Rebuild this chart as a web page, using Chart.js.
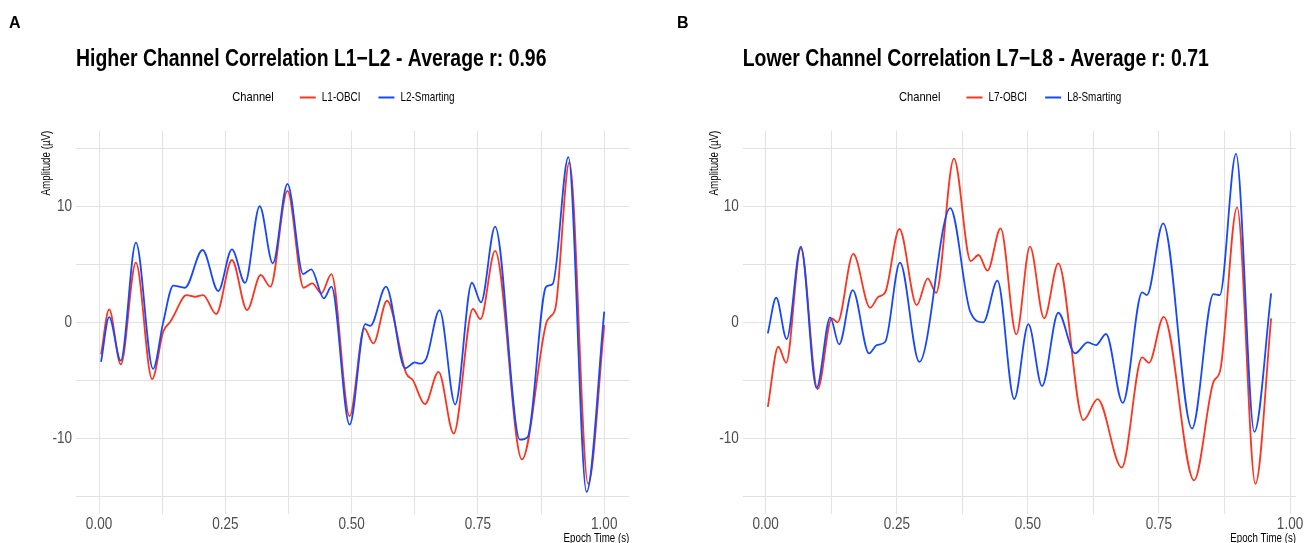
<!DOCTYPE html>
<html>
<head>
<meta charset="utf-8">
<script src="https://cdn.jsdelivr.net/npm/chart.js@4.4.1/dist/chart.umd.min.js"></script>
<style>
  html, body { margin: 0; padding: 0; background: #ffffff; }
  #figure { position: relative; width: 1312px; height: 543px; overflow: hidden; background: #ffffff; }
  #figure canvas { position: absolute; top: 0; }
  .tag { position: absolute; font: bold 16px "Liberation Sans", Arial, sans-serif; color: #000; line-height: 16px; }
</style>
</head>
<body>
<div id="figure">
  <canvas id="panelA" width="656" height="543" style="left:0px"></canvas>
  <canvas id="panelB" width="656" height="543" style="left:656px"></canvas>
  <div class="tag" style="left:9px;top:15px">A</div>
  <div class="tag" style="left:677px;top:15px">B</div>
</div>
<script>
// ---- Panel A: L1 (OpenBCI) vs L2 (Smarting) ----
const timeL1 = [0.004, 0.020, 0.043, 0.073, 0.105, 0.127, 0.141, 0.147, 0.173, 0.190, 0.206, 0.232, 0.263, 0.293, 0.320, 0.339, 0.373, 0.405, 0.422, 0.440, 0.460, 0.496, 0.525, 0.543, 0.570, 0.608, 0.621, 0.645, 0.672, 0.702, 0.740, 0.755, 0.784, 0.837, 0.885, 0.893, 0.904, 0.931, 0.968, 1.000];
const ampL1  = [-2.76, 1.12, -3.62, 5.14, -4.89, -0.8, 0.05, 0.5, 2.35, 2.2, 2.35, 0.72, 5.37, 1.06, 4.08, 3.07, 11.32, 2.98, 3.36, 2.5, 4.16, -8.08, -0.52, -1.81, 1.86, -4.4, -4.97, -7.04, -4.26, -9.57, 1.15, 0.28, 6.15, -11.8, -0.1, 0.48, 1.35, 13.8, -13.9, -0.23];

const timeL2 = [0.004, 0.020, 0.043, 0.073, 0.107, 0.127, 0.147, 0.170, 0.205, 0.236, 0.263, 0.289, 0.318, 0.344, 0.373, 0.404, 0.420, 0.445, 0.460, 0.496, 0.527, 0.537, 0.568, 0.606, 0.625, 0.636, 0.648, 0.674, 0.705, 0.738, 0.756, 0.784, 0.833, 0.848, 0.885, 0.898, 0.929, 0.965, 1.000];
const ampL2  = [-3.4, 0.45, -3.3, 6.86, -4.0, 0.0, 3.16, 2.98, 6.23, 2.7, 6.29, 3.4, 10.0, 5.08, 11.92, 4.16, 4.57, 2.07, 3.07, -8.8, -0.15, -0.3, 3.07, -3.95, -3.45, -3.55, -3.1, 1.06, -7.07, 3.41, 1.72, 8.24, -10.1, -9.9, 3.07, 3.3, 14.22, -14.6, 0.92];

// ---- Panel B: L7 (OpenBCI) vs L8 (Smarting) ----
const timeL7 = [0.004, 0.024, 0.039, 0.067, 0.099, 0.126, 0.137, 0.167, 0.199, 0.215, 0.228, 0.255, 0.288, 0.309, 0.325, 0.359, 0.391, 0.406, 0.423, 0.448, 0.478, 0.504, 0.531, 0.558, 0.606, 0.633, 0.679, 0.718, 0.731, 0.759, 0.817, 0.854, 0.867, 0.899, 0.934, 0.964];
const ampL7  = [-7.28, -2.1, -3.48, 6.38, -5.75, 0.34, 0.0, 5.89, 1.26, 2.2, 2.59, 8.04, 1.49, 3.79, 2.55, 14.1, 5.28, 5.8, 4.45, 8.1, -1.04, 6.52, 0.34, 5.08, -8.42, -6.61, -12.5, -3.02, -3.48, 0.48, -13.6, -5.12, -4.11, 9.91, -13.9, 0.34];

const timeL8 = [0.004, 0.020, 0.040, 0.067, 0.097, 0.123, 0.140, 0.166, 0.197, 0.212, 0.228, 0.256, 0.293, 0.352, 0.390, 0.415, 0.442, 0.474, 0.501, 0.527, 0.558, 0.590, 0.614, 0.630, 0.649, 0.681, 0.718, 0.727, 0.758, 0.813, 0.854, 0.866, 0.897, 0.932, 0.964];
const ampL8  = [-0.95, 2.12, -1.44, 6.52, -5.64, 0.43, -1.9, 2.78, -2.67, -1.96, -1.67, 5.14, -3.4, 9.83, 0.92, 0.0, 3.59, -6.6, -0.15, -5.49, 0.83, -2.67, -1.72, -1.96, -1.0, -6.93, 2.59, 2.35, 8.53, -9.14, 2.44, 2.35, 14.5, -9.43, 2.5];

// ---- Axis breaks ----
const xGrid     = [0, 0.125, 0.25, 0.375, 0.5, 0.625, 0.75, 0.875, 1.0];
const xLabelled = [0, 0.25, 0.5, 0.75, 1.0];
const yGrid     = [-15, -10, -5, 0, 5, 10, 15];
const yLabelled = [-10, 0, 10];

const FONT = '"Liberation Sans", Arial, sans-serif';
const NARROW_FACTOR = 0.82;   // narrow-face proportions
const RED = '#fc3520';
const BLUE = '#1848fc';
const GRID = '#e2e2e2';

Chart.defaults.font.family = FONT;

const toPoints = (t, v) => t.map((x, i) => ({ x, y: v[i] }));
const hasValue = (list, v) => list.some(b => Math.abs(b - v) < 1e-9);

// Render all canvas text with narrow proportions (horizontal squeeze about the anchor).
function narrowText(ctx, k) {
  const fill = ctx.fillText.bind(ctx);
  const measure = ctx.measureText.bind(ctx);
  ctx.fillText = (text, x, y, maxWidth) => {
    ctx.save();
    ctx.translate(x, y);
    ctx.scale(k, 1);
    if (maxWidth === undefined || maxWidth === null) fill(text, 0, 0);
    else fill(text, 0, 0, maxWidth / k);
    ctx.restore();
  };
  ctx.measureText = text => {
    const m = measure(text);
    return {
      width: m.width * k,
      actualBoundingBoxLeft: m.actualBoundingBoxLeft * k,
      actualBoundingBoxRight: m.actualBoundingBoxRight * k,
      actualBoundingBoxAscent: m.actualBoundingBoxAscent,
      actualBoundingBoxDescent: m.actualBoundingBoxDescent,
      fontBoundingBoxAscent: m.fontBoundingBoxAscent,
      fontBoundingBoxDescent: m.fontBoundingBoxDescent
    };
  };
}

// Empty layout box that sits between the legend and the plotting area.
const legendGap = {
  id: 'legendGap',
  beforeInit(chart, args, opts) {
    const size = opts.size || 0;
    Chart.layouts.addBox(chart, {
      position: 'top', weight: 0, fullSize: false, options: {},
      left: 0, top: 0, right: 0, bottom: 0, width: 0, height: 0,
      isHorizontal() { return true; },
      update(maxWidth) { this.width = maxWidth; this.height = size; },
      draw() {}
    });
  }
};

// Legend heading drawn on the same row, left of the first key;
// the legend row is also nudged horizontally.
const legendHeading = {
  id: 'legendHeading',
  afterLayout(chart, args, opts) {
    const lg = chart.legend;
    if (!lg || !opts.shift) return;
    lg.left += opts.shift;
    lg.right += opts.shift;
  },
  afterDraw(chart, args, opts) {
    const lg = chart.legend;
    if (!lg || !lg.legendHitBoxes || lg.legendHitBoxes.length < 2) return;
    const hb = lg.legendHitBoxes[1];
    const ctx = chart.ctx;
    ctx.save();
    ctx.font = opts.size + 'px ' + FONT;
    ctx.fillStyle = opts.color;
    ctx.textAlign = 'right';
    ctx.textBaseline = 'middle';
    ctx.fillText(opts.text, hb.left - opts.gap, hb.top + hb.height / 2);
    ctx.restore();
  }
};

function buildPanel(canvasId, p) {
  const canvas = document.getElementById(canvasId);
  narrowText(canvas.getContext('2d'), NARROW_FACTOR);
  return new Chart(canvas, {
    type: 'line',
    data: {
      datasets: [
        { label: p.names[0], data: toPoints(p.t1, p.v1), borderColor: RED, backgroundColor: RED, order: 1 },
        { label: p.names[1], data: toPoints(p.t2, p.v2), borderColor: BLUE, backgroundColor: BLUE, order: 0 }
      ]
    },
    options: {
      responsive: false,
      animation: false,
      events: [],
      elements: {
        line: { borderWidth: 1.8, cubicInterpolationMode: 'monotone', fill: false },
        point: { radius: 0 }
      },
      layout: { padding: { left: p.padLeft, right: p.padRight, top: 10, bottom: 0 } },
      plugins: {
        tooltip: { enabled: false },
        title: {
          display: true, text: p.title, align: 'start', fullSize: false, color: '#000',
          font: { size: 23.7, weight: 'bold', lineHeight: 1.2 },
          padding: { top: 35, bottom: 0 }
        },
        legend: {
          display: true, position: 'top', align: 'center', fullSize: false,
          labels: {
            usePointStyle: true, pointStyleWidth: 16, boxHeight: 12,
            font: { size: 12.1 }, color: '#000', padding: 18,
            generateLabels(chart) {
              const items = [{
                text: 'Channel', pointStyle: 'line', lineWidth: 0,
                strokeStyle: 'rgba(0,0,0,0)', fillStyle: 'rgba(0,0,0,0)',
                fontColor: 'rgba(0,0,0,0)', hidden: false, datasetIndex: -1
              }];
              chart.data.datasets.forEach((ds, i) => items.push({
                text: ds.label, pointStyle: 'line', lineWidth: 2,
                strokeStyle: ds.borderColor, fillStyle: ds.borderColor,
                fontColor: '#000', hidden: false, datasetIndex: i
              }));
              return items;
            }
          }
        },
        legendGap: { size: 17.2 },
        legendHeading: { text: 'Channel', size: 13.6, color: '#000', gap: 26, shift: -14 }
      },
      scales: {
        x: {
          type: 'linear', min: p.xMin, max: p.xMax,
          afterBuildTicks: s => { s.ticks = xGrid.filter(v => v <= p.xMax).map(v => ({ value: v })); },
          afterFit: s => { s.height = 29; },
          grid: { color: GRID, lineWidth: 1, drawTicks: false },
          border: { display: false },
          ticks: {
            autoSkip: false, maxRotation: 0, padding: 1, color: '#4d4d4d',
            font: { size: 16.5, lineHeight: 1.2 },
            callback: v => hasValue(xLabelled, v) ? v.toFixed(2) : ''
          },
          title: {
            display: true, text: 'Epoch Time (s)', align: 'end', color: '#000',
            font: { size: 11.9, lineHeight: 0.8 }, padding: 0
          }
        },
        y: {
          type: 'linear', min: -16.5, max: 16.5,
          afterBuildTicks: s => { s.ticks = yGrid.map(v => ({ value: v })); },
          afterFit: s => { s.width = p.yAxisWidth; },
          grid: { color: GRID, lineWidth: 1, drawTicks: false },
          border: { display: false },
          ticks: {
            autoSkip: false, padding: 4, color: '#4d4d4d',
            font: { size: 16.5, lineHeight: 1.2 },
            callback: v => hasValue(yLabelled, v) ? String(v) : ''
          },
          title: {
            display: true, text: 'Amplitude (\u00b5V)', align: 'end', color: '#000',
            font: { size: 11.9, lineHeight: 1.2 }, padding: 0
          }
        }
      }
    },
    plugins: [legendGap, legendHeading]
  });
}

buildPanel('panelA', {
  title: 'Higher Channel Correlation L1\u2212L2 - Average r: 0.96',
  names: ['L1-OBCI', 'L2-Smarting'],
  t1: timeL1, v1: ampL1, t2: timeL2, v2: ampL2,
  xMin: -0.0456, xMax: 1.0496,
  padLeft: 40, padRight: 26.7, yAxisWidth: 36
});

buildPanel('panelB', {
  title: 'Lower Channel Correlation L7\u2212L8 - Average r: 0.71',
  names: ['L7-OBCI', 'L8-Smarting'],
  t1: timeL7, v1: ampL7, t2: timeL8, v2: ampL8,
  xMin: -0.0439, xMax: 1.0114,
  padLeft: 51.3, padRight: 16, yAxisWidth: 35.4
});
</script>
</body>
</html>
